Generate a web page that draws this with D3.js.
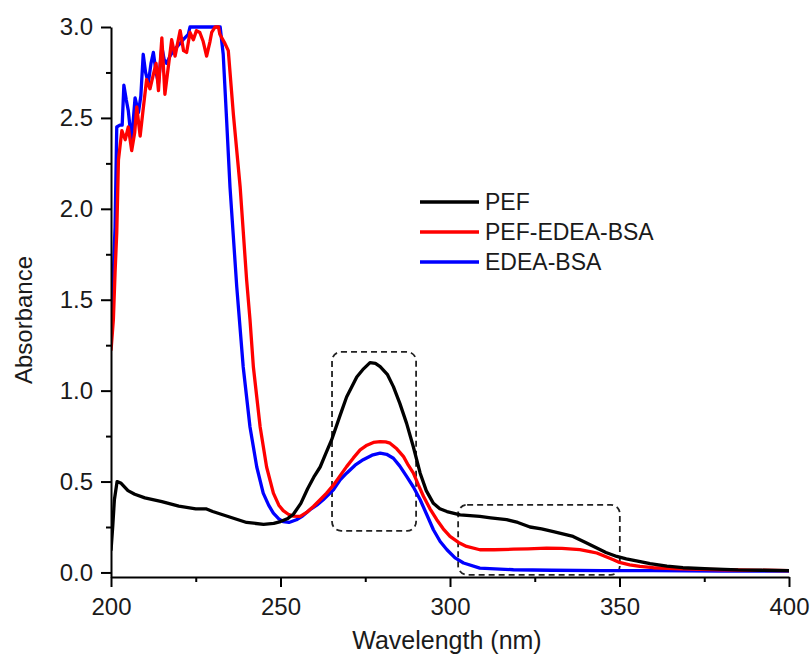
<!DOCTYPE html>
<html>
<head>
<meta charset="utf-8">
<script src="https://cdn.jsdelivr.net/npm/d3@7"></script>
<style>
  body { margin: 0; background: #fff; }
  svg { display: block; font-family: "Liberation Sans", Arial, sans-serif; }
</style>
</head>
<body>
<svg id="chart" width="812" height="656"></svg>
<script>
// absorbance spectra
var pefWl  = [200, 200.5, 201, 201.8, 203, 205, 207, 210, 215, 220, 225, 228, 230, 235, 240, 245, 248, 250, 252, 253.8, 256, 258, 260, 261.7, 263.5, 265.1, 267.5, 269.5, 272.5, 274.5, 276.4, 278, 279.4, 281.5, 283.3, 285.2, 287.2, 289.2, 291.2, 293, 295.1, 297, 299.1, 303, 308.8, 312, 316.7, 320, 323.6, 327, 330.5, 336.3, 340, 343.3, 346, 349.2, 352, 356.1, 359, 364, 368.7, 376.7, 385, 392, 400];
var pefAbs = [0.12, 0.25, 0.40, 0.50, 0.49, 0.45, 0.43, 0.41, 0.39, 0.365, 0.35, 0.35, 0.335, 0.305, 0.275, 0.265, 0.27, 0.28, 0.295, 0.32, 0.38, 0.46, 0.53, 0.58, 0.66, 0.73, 0.86, 0.965, 1.075, 1.12, 1.154, 1.15, 1.132, 1.09, 1.022, 0.93, 0.82, 0.69, 0.546, 0.45, 0.38, 0.35, 0.335, 0.317, 0.308, 0.30, 0.29, 0.275, 0.25, 0.24, 0.225, 0.198, 0.165, 0.134, 0.11, 0.088, 0.075, 0.06, 0.048, 0.035, 0.026, 0.02, 0.014, 0.012, 0.01];

var mixWl  = [200, 200.7, 201.2, 201.7, 202.2, 203.2, 204.2, 205.1, 206.1, 207, 207.6, 208.6, 209.5, 210.5, 211.5, 212.5, 213.3, 214, 215, 215.9, 216.9, 217.9, 218.9, 220.4, 221.4, 222.3, 223.3, 224.3, 225.2, 226.2, 227.2, 228.2, 229.2, 229.7, 230.7, 231.7, 232.1, 233.6, 234.6, 236.1, 238.1, 240, 241, 242, 244, 245.9, 247.9, 249.5, 250.8, 252.3, 253.8, 255.8, 257.7, 259.7, 261.7, 263.6, 265.6, 267.5, 269.5, 271.5, 273.5, 275.5, 277.4, 279.4, 281, 282.3, 284.3, 286.3, 287.7, 289.2, 290.7, 292.2, 294.1, 296.1, 298, 300, 302.5, 304.9, 308.8, 313, 318.7, 323, 328.5, 333, 338.3, 341.3, 343.3, 345.5, 348.2, 350, 353, 356, 360, 368, 380, 400];
var mixAbs = [1.22, 1.39, 1.65, 1.87, 2.27, 2.43, 2.38, 2.45, 2.32, 2.42, 2.56, 2.40, 2.55, 2.71, 2.66, 2.74, 2.80, 2.65, 2.94, 2.63, 2.78, 2.93, 2.84, 2.98, 2.87, 2.86, 2.97, 2.93, 2.98, 2.97, 2.92, 2.84, 2.92, 2.97, 3.0, 3.0, 2.96, 2.91, 2.87, 2.52, 2.12, 1.61, 1.39, 1.13, 0.80, 0.58, 0.436, 0.37, 0.34, 0.32, 0.31, 0.308, 0.33, 0.363, 0.40, 0.436, 0.48, 0.53, 0.582, 0.63, 0.674, 0.70, 0.715, 0.72, 0.718, 0.711, 0.68, 0.637, 0.59, 0.546, 0.48, 0.418, 0.35, 0.29, 0.24, 0.198, 0.165, 0.143, 0.125, 0.125, 0.128, 0.13, 0.134, 0.132, 0.125, 0.115, 0.107, 0.09, 0.07, 0.055, 0.042, 0.033, 0.026, 0.02, 0.015, 0.01];

var bsaWl  = [200, 200.5, 201.2, 201.7, 202.6, 203.3, 203.8, 204.5, 205.1, 205.6, 206.1, 207.1, 208.1, 208.8, 209.5, 210.2, 211, 211.8, 212.5, 213.3, 214, 215, 215.7, 216.4, 217.4, 218.4, 219.9, 221.3, 222.8, 223.3, 232.2, 233.1, 234.1, 235.1, 237.1, 239, 241, 243, 244.9, 246.5, 247.9, 249.5, 250.8, 252.5, 254.7, 256.5, 258.7, 260.7, 262.6, 265.6, 267.6, 269.5, 272, 274.4, 277, 279.4, 281.3, 283.3, 285.2, 287.2, 289.2, 291.2, 293.1, 295.1, 297.1, 299.1, 301.5, 304, 308.8, 318.7, 330, 345, 360, 380, 400];
var bsaAbs = [1.30, 1.55, 1.90, 2.45, 2.46, 2.46, 2.68, 2.60, 2.54, 2.45, 2.38, 2.61, 2.53, 2.62, 2.85, 2.75, 2.69, 2.80, 2.86, 2.75, 2.69, 2.89, 2.82, 2.80, 2.84, 2.87, 2.90, 2.93, 2.96, 3.0, 3.0, 2.85, 2.49, 2.12, 1.57, 1.13, 0.80, 0.58, 0.436, 0.37, 0.326, 0.295, 0.28, 0.275, 0.29, 0.31, 0.345, 0.37, 0.40, 0.454, 0.51, 0.546, 0.59, 0.62, 0.645, 0.656, 0.65, 0.628, 0.585, 0.528, 0.47, 0.40, 0.32, 0.235, 0.17, 0.125, 0.08, 0.052, 0.024, 0.015, 0.012, 0.01, 0.01, 0.008, 0.008];

var seriesNames = ["PEF", "PEF-EDEA-BSA", "EDEA-BSA"];
var seriesColors = ["#000000", "#ff0000", "#0000ff"];

var xMajor = [200, 250, 300, 350, 400];
var xMinor = [225, 275, 325, 375];
var yMajor = [0, 0.5, 1.0, 1.5, 2.0, 2.5, 3.0];
var yMinor = [0.25, 0.75, 1.25, 1.75, 2.25, 2.75];

// dashed boxes round the two bands: [wl0, wl1, abs0, abs1]
var boxes = [[265.2, 290.0, 0.229, 1.213], [302.4, 350.1, -0.013, 0.372]];

var svg = d3.select("#chart");
var x = d3.scaleLinear().domain([200, 400]).range([111, 789]);
var y = d3.scaleLinear().domain([-0.025, 3.0]).range([577, 27]);

svg.append("clipPath").attr("id", "plotclip")
  .append("rect").attr("x", 111).attr("y", 24).attr("width", 678).attr("height", 553);

var series = [
  { wl: pefWl, ab: pefAbs },
  { wl: mixWl, ab: mixAbs },
  { wl: bsaWl, ab: bsaAbs }
];

var line = d3.line()
  .x(function(d) { return x(d[0]); })
  .y(function(d) { return y(d[1]); });

var plot = svg.append("g").attr("clip-path", "url(#plotclip)");

// boxes first so the curves sit on top
plot.selectAll("rect.box")
  .data(boxes)
  .enter().append("rect")
    .attr("class", "box")
    .attr("x", function(b) { return x(b[0]); })
    .attr("y", function(b) { return y(b[3]); })
    .attr("width", function(b) { return x(b[1]) - x(b[0]); })
    .attr("height", function(b) { return y(b[2]) - y(b[3]); })
    .attr("rx", 9).attr("ry", 9)
    .attr("fill", "none")
    .attr("stroke", "#222")
    .attr("stroke-width", 1.8)
    .attr("stroke-dasharray", "6,4");

// draw black last so it sits on top, as in the picture
[2, 1, 0].forEach(function(i) {
  var s = series[i];
  var pts = s.wl.map(function(w, k) { return [w, s.ab[k]]; });
  plot.append("path")
    .attr("d", line(pts))
    .attr("fill", "none")
    .attr("stroke", seriesColors[i])
    .attr("stroke-width", 3.3)
    .attr("stroke-linejoin", "round");
});

function styleAxis(g) {
  g.selectAll("path.domain").attr("stroke", "#000").attr("stroke-width", 2);
  g.selectAll(".tick line").attr("stroke", "#000").attr("stroke-width", 2);
  g.selectAll(".tick text").attr("fill", "#1a1a1a").style("font-size", "24px").style("font-family", "'Liberation Sans', Arial, sans-serif");
}

var xAxisG = svg.append("g").attr("transform", "translate(0,577)");
xAxisG.call(d3.axisBottom(x).tickValues(xMajor).tickSize(10).tickSizeOuter(0).tickPadding(11).tickFormat(d3.format("d")));
styleAxis(xAxisG);
var xMinorG = svg.append("g").attr("transform", "translate(0,577)");
xMinorG.call(d3.axisBottom(x).tickValues(xMinor).tickSize(5).tickSizeOuter(0).tickFormat(""));
xMinorG.select("path.domain").remove();
styleAxis(xMinorG);

var yAxisG = svg.append("g").attr("transform", "translate(111,0)");
yAxisG.call(d3.axisLeft(y).tickValues(yMajor).tickSize(10).tickSizeOuter(0).tickPadding(8).tickFormat(d3.format(".1f")));
styleAxis(yAxisG);
var yMinorG = svg.append("g").attr("transform", "translate(111,0)");
yMinorG.call(d3.axisLeft(y).tickValues(yMinor).tickSize(5).tickSizeOuter(0).tickFormat(""));
yMinorG.select("path.domain").remove();
styleAxis(yMinorG);

// axis titles
svg.append("text")
  .attr("x", 447).attr("y", 649)
  .attr("text-anchor", "middle")
  .attr("fill", "#1a1a1a")
  .style("font-size", "25px")
  .text("Wavelength (nm)");

svg.append("text")
  .attr("transform", "translate(32,320) rotate(-90)")
  .attr("text-anchor", "middle")
  .attr("fill", "#1a1a1a")
  .style("font-size", "24px")
  .text("Absorbance");

// legend
var legend = svg.append("g").attr("transform", "translate(420,202)");
var rows = legend.selectAll("g.row")
  .data(seriesNames)
  .enter().append("g")
    .attr("class", "row")
    .attr("transform", function(d, i) { return "translate(0," + (i * 30) + ")"; });
rows.append("line")
  .attr("x1", 0).attr("x2", 59)
  .attr("stroke", function(d, i) { return seriesColors[i]; })
  .attr("stroke-width", 3.3);
rows.append("text")
  .attr("x", 65).attr("y", 0)
  .attr("dy", "0.35em")
  .attr("fill", "#1a1a1a")
  .style("font-size", "23px")
  .text(function(d) { return d; });
</script>
</body>
</html>
